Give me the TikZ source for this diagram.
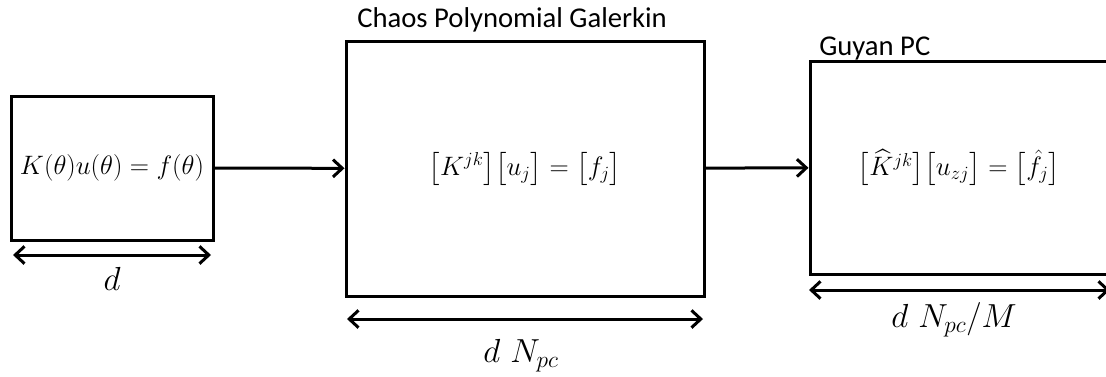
\RequirePackage{fix-cm}
\documentclass[tikz,border=0pt]{standalone}
\usepackage{amsmath}
\usepackage{fontspec}
\newfontfamily\lblfont{Carlito}
\usepackage{tikz}
\usetikzlibrary{arrows.meta, positioning}
\tikzstyle{block}  = [rectangle, draw=black, line width=2.25pt, inner sep=0pt,
                      font=\fontsize{20}{24}\selectfont]
\tikzstyle{title}  = [font=\lblfont\fontsize{21.5}{25}\selectfont, inner sep=0pt]
\tikzstyle{dimlbl} = [font=\fontsize{25}{30}\selectfont, inner sep=0pt]
\tikzstyle{arrow}  = [line width=2.25pt, -{Straight Barb[length=7pt, width=13pt]}]
\tikzstyle{darrow} = [line width=2.25pt, {Straight Barb[length=7pt, width=13pt]}-{Straight Barb[length=7pt, width=13pt]}]

\begin{document}
\begin{tikzpicture}[x=0.75pt, y=-0.75pt]
  \clip (0,0) rectangle (1106,376);
  \useasboundingbox (0,0) rectangle (1106,376);

  % --- Blocks ---
  \node (sys) [block, minimum width=151.5pt, minimum height=108pt] at (112,168)
        {$K(\theta)u(\theta)=f(\theta)$};
  \node (pcg) [block, minimum width=268.5pt, minimum height=191.25pt] at (525,168.5)
        {$\bigl[K^{jk}\bigr]\bigl[u_j\bigr]=\bigl[f_j\bigr]$};
  \node (gpc) [block, minimum width=223.5pt, minimum height=159.75pt] at (959,167.5)
        {$\bigl[\widehat{K}^{jk}\bigr]\bigl[u_{zj}\bigr]=\bigl[\hat{f}_j\bigr]$};

  % --- Titles ---
  \node (pcg_lbl) [title, anchor=base west] at (357,27) {Chaos Polynomial Galerkin};
  \node (gpc_lbl) [title, anchor=base west] at (819,55) {Guyan PC};

  % --- Sizes ---
  \coordinate (sys_l) at (13,255);
  \coordinate (sys_r) at (211,255);
  \coordinate (pcg_l) at (347,319);
  \coordinate (pcg_r) at (703,319);
  \coordinate (gpc_l) at (809,290);
  \coordinate (gpc_r) at (1110,290);
  \node (sys_dim) [dimlbl, anchor=base] at (112,290) {$d$};
  \node (pcg_dim) [dimlbl, anchor=base] at (521,362) {$d\ N_{pc}$};
  \node (gpc_dim) [dimlbl, anchor=base] at (954,327) {$d\ N_{pc}/M$};

  % Arrows
  \draw[arrow] (sys) -- (pcg);
  \draw[arrow] (pcg) -- (gpc);
  \draw[darrow] (sys_l) -- (sys_r);
  \draw[darrow] (pcg_l) -- (pcg_r);
  \draw[darrow] (gpc_l) -- (gpc_r);

\end{tikzpicture}
\end{document}
